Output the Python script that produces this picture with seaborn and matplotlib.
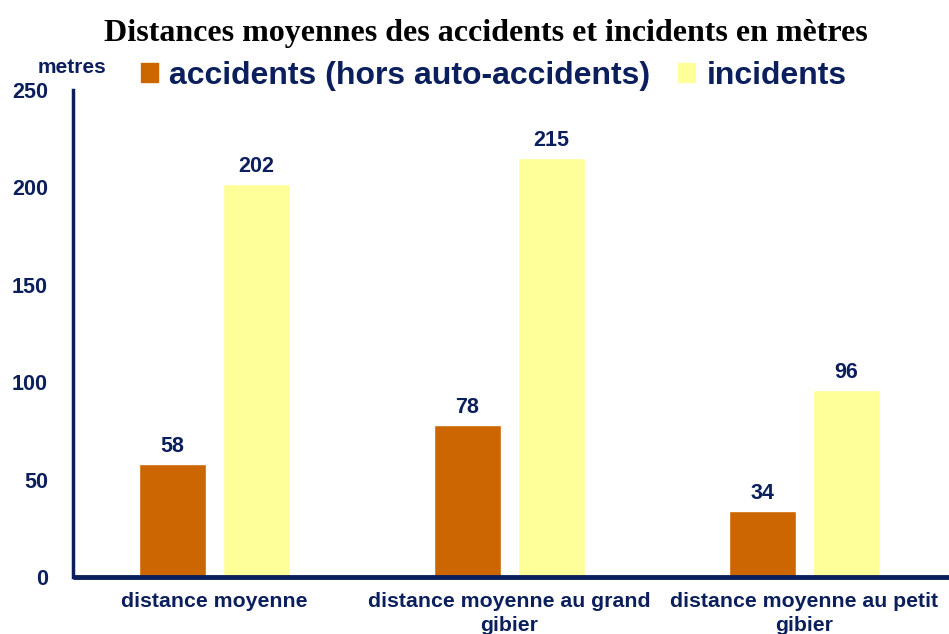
import matplotlib
matplotlib.use("Agg")
import matplotlib.pyplot as plt
import matplotlib.patches as mpatches
import pandas as pd
import seaborn as sns
import textwrap

# données
categories = ["distance moyenne",
              "distance moyenne au grand gibier",
              "distance moyenne au petit gibier"]
series = ["accidents (hors auto-accidents)", "incidents"]
accidents = [58, 78, 34]
incidents = [202, 215, 96]
yticks = [0, 50, 100, 150, 200, 250]

navy = "#0b1f5c"
couleurs = ["#cc6600", "#ffff99"]

sns.set_theme(style="white")
plt.rcParams['font.family'] = ['Liberation Sans', 'DejaVu Sans']

df = pd.DataFrame({
    'categorie': categories * 2,
    'serie': [series[0]] * 3 + [series[1]] * 3,
    'valeur': accidents + incidents,
})

fig = plt.figure(figsize=(9.49, 6.34), dpi=100)
ax = fig.add_axes([0.077, 0.090, 0.923, 0.768])

sns.barplot(data=df, x='categorie', y='valeur', hue='serie',
            palette=couleurs, width=0.57, gap=0.21, ax=ax,
            saturation=1, legend=False, errorbar=None)

for c in ax.containers:
    ax.bar_label(c, padding=5, fontsize=15.5, fontweight='bold', color=navy)

ax.set_ylim(0, 250)
ax.set_xlim(-0.48, 2.49)
ax.set_yticks(yticks)
ax.set_yticklabels([str(v) for v in yticks], fontsize=15.5,
                   fontweight='bold', color=navy)
ax.set_xticks(range(len(categories)))
ax.set_xticklabels([textwrap.fill(c, 25) for c in categories], fontsize=15.3,
                   fontweight='bold', color=navy, linespacing=1.3)
ax.tick_params(axis='y', length=0, pad=18)
ax.tick_params(axis='x', length=0, pad=11)
ax.set_xlabel('')
ax.set_ylabel('')

sns.despine(ax=ax, top=True, right=True)
ax.spines['left'].set_color(navy)
ax.spines['left'].set_linewidth(2.5)
ax.spines['bottom'].set_color(navy)
ax.spines['bottom'].set_linewidth(3.5)
ax.spines['bottom'].set_capstyle('butt')

fig.text(0.040, 0.894, 'metres', fontsize=15, fontweight='bold', color=navy,
         ha='left', va='center')

handles = [mpatches.Patch(color=couleurs[i], label=series[i]) for i in range(2)]
leg = fig.legend(handles=handles, loc='center', bbox_to_anchor=(0.52, 0.88),
                 ncol=2, frameon=False, fontsize=23, handlelength=0.55,
                 handleheight=0.55, handletextpad=0.35, columnspacing=0.85)
for t in leg.get_texts():
    t.set_color(navy)
    t.set_fontweight('bold')

fig.suptitle('Distances moyennes des accidents et incidents en mètres',
             x=0.512, y=0.970, fontsize=23, fontweight='bold',
             family=['Liberation Serif', 'DejaVu Serif'], color='black')

fig.savefig('out.png', dpi=100)
